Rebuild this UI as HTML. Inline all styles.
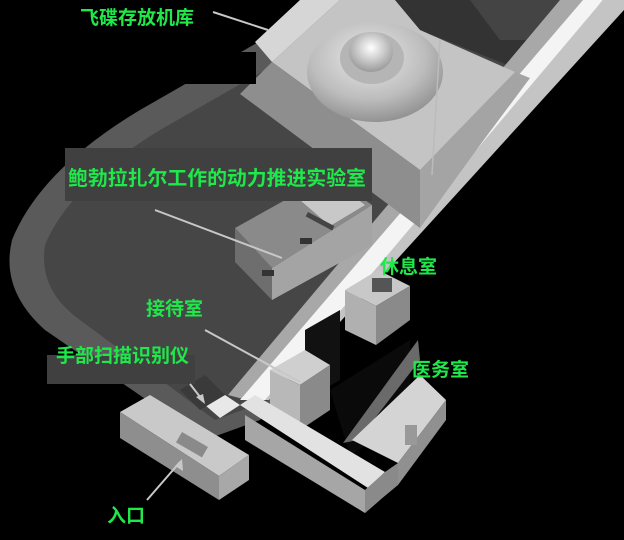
<!DOCTYPE html>
<html><head><meta charset="utf-8"><style>
html,body{margin:0;padding:0;background:#000;}
svg{display:block;}
text{font-family:"Liberation Sans","Noto Sans CJK SC",sans-serif;font-weight:bold;fill:#1ee84a;font-size:19px;}
</style></head><body>
<svg width="624" height="540" viewBox="0 0 624 540" xmlns="http://www.w3.org/2000/svg">
<defs>
<radialGradient id="disc" cx="0.45" cy="0.35" r="0.7">
<stop offset="0" stop-color="#e8e8e8"/><stop offset="0.6" stop-color="#bdbdbd"/><stop offset="1" stop-color="#8a8a8a"/></radialGradient>
<radialGradient id="dome" cx="0.5" cy="0.4" r="0.6">
<stop offset="0" stop-color="#ffffff"/><stop offset="1" stop-color="#9a9a9a"/></radialGradient>
</defs>
<rect width="624" height="540" fill="#000"/>
<!-- hull -->
<path d="M262,40 L140,110 Q40,170 12,240 Q0,290 45,330 L205,440 L260,420 L430,195 L565,0 L300,0 Z" fill="#5a5a5a"/>
<path d="M265,70 L160,130 Q70,185 45,245 Q38,290 80,320 L215,420 L270,400 L425,200 L540,20 L320,20 Z" fill="#464646"/>
<!-- dark top area right of hangar -->
<polygon points="390,0 565,0 520,70 420,30" fill="#333"/>
<polygon points="470,0 565,0 540,40 500,40" fill="#444"/>
<!-- beam -->
<polygon points="560,0 585,0 247,400 228,395" fill="#a8a8a8"/>
<polygon points="603,0 624,0 624,10 269,400 252,400" fill="#c4c4c4"/>
<polygon points="583,0 603,0 265,400 240,400" fill="#f4f4f4"/>
<!-- hangar -->
<polygon points="255,42 300,0 340,0 272,62" fill="#d6d6d6"/>
<polygon points="272,62 340,0 395,0 420,30 515,72 420,170" fill="#c4c4c4"/>
<polygon points="240,94 272,62 420,170 420,228" fill="#8e8e8e"/>
<polygon points="420,170 515,72 530,78 480,145 420,228" fill="#a4a4a4"/>
<ellipse cx="375" cy="72" rx="68" ry="50" fill="url(#disc)"/>
<ellipse cx="372" cy="58" rx="32" ry="26" fill="#b5b5b5"/>
<ellipse cx="371" cy="52" rx="22" ry="20" fill="url(#dome)"/>
<line x1="440" y1="40" x2="432" y2="175" stroke="#bbb" stroke-width="1.5"/>
<!-- lab -->
<polygon points="235,228 330,175 372,205 272,268" fill="#8a8a8a"/>
<polygon points="235,228 272,268 272,300 235,262" fill="#6e6e6e"/>
<polygon points="272,268 372,205 372,245 272,300" fill="#a4a4a4"/>
<polygon points="300,200 335,182 365,205 330,226" fill="#c8c8c8"/>
<rect x="308" y="212" width="30" height="5" fill="#444" transform="rotate(28 308 212)"/>
<rect x="300" y="238" width="12" height="6" fill="#333"/>
<rect x="262" y="270" width="12" height="6" fill="#333"/>
<!-- rest room -->
<polygon points="345,290 378,270 410,286 376,306" fill="#c8c8c8"/>
<polygon points="345,290 376,306 376,345 345,330" fill="#b0b0b0"/>
<polygon points="376,306 410,286 410,320 376,345" fill="#8a8a8a"/>
<rect x="372" y="278" width="20" height="14" fill="#555"/>
<!-- dark gaps -->
<polygon points="305,330 340,310 340,380 305,400" fill="#111"/>
<polygon points="330,390 410,340 410,420 350,455" fill="#0a0a0a"/>
<!-- reception -->
<polygon points="270,370 305,350 330,365 300,385" fill="#cfcfcf"/>
<polygon points="270,370 300,385 300,430 270,415" fill="#b8b8b8"/>
<polygon points="300,385 330,365 330,410 300,430" fill="#8a8a8a"/>
<!-- medical room -->
<polygon points="343,443 418,340 420,360 358,440" fill="#6a6a6a"/>
<polygon points="352,440 420,375 446,400 398,463" fill="#d4d4d4"/>
<polygon points="398,463 446,400 446,420 398,485" fill="#909090"/>
<rect x="405" y="425" width="12" height="20" fill="#999"/>
<!-- long lower wall -->
<polygon points="245,415 365,490 380,480 380,500 365,513 245,440" fill="#a6a6a6"/>
<polygon points="240,405 255,395 385,472 368,488" fill="#e2e2e2"/>
<polygon points="365,490 385,472 398,463 398,485 380,500 365,513" fill="#8a8a8a"/>
<!-- entry block -->
<polygon points="120,412 150,395 249,455 219,476" fill="#c9c9c9"/>
<polygon points="120,412 219,476 219,500 120,438" fill="#8e8e8e"/>
<polygon points="219,476 249,455 249,480 219,500" fill="#a8a8a8"/>
<rect x="182" y="432" width="30" height="12" fill="#8a8a8a" transform="rotate(30 182 432)"/>
<!-- scanner -->
<polygon points="205,405 225,395 240,405 220,418" fill="#e8e8e8"/>
<polygon points="180,390 205,375 225,395 200,410" fill="#3a3a3a"/>
<!-- black overlay box -->
<rect x="0" y="52" width="256" height="32" fill="#000"/>
<!-- label backgrounds -->
<rect x="65" y="148" width="307" height="53" fill="#404040"/>
<rect x="47" y="355" width="148" height="29" fill="#404040"/>
<!-- pointer lines -->
<g stroke="#c8c8c8" stroke-width="2" fill="none">
<line x1="213" y1="12" x2="268" y2="30"/>
<line x1="155" y1="210" x2="282" y2="258"/>
<line x1="205" y1="330" x2="300" y2="382"/>
<line x1="190" y1="384" x2="204" y2="402"/>
<line x1="147" y1="500" x2="180" y2="462"/>
</g>
<polygon points="205,404 196,397 203,394" fill="#c8c8c8"/>
<polygon points="182,459 183,471 175,466" fill="#c8c8c8"/>
<!-- labels -->
<text x="80" y="24">飞碟存放机库</text>
<text x="68" y="185" style="font-size:20px" textLength="298" lengthAdjust="spacingAndGlyphs">鲍勃拉扎尔工作的动力推进实验室</text>
<text x="380" y="273">休息室</text>
<text x="146" y="315">接待室</text>
<text x="56" y="362">手部扫描识别仪</text>
<text x="412" y="376">医务室</text>
<text x="107" y="522">入口</text>
</svg>
</body></html>
